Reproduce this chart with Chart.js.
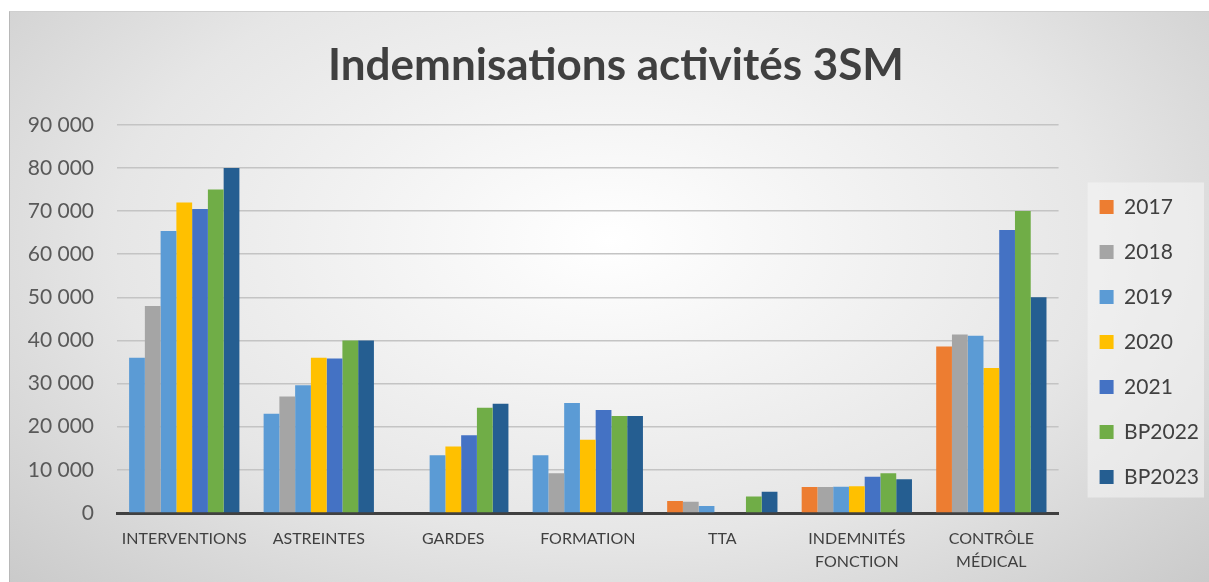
<!DOCTYPE html>
<html>
<head>
<meta charset="utf-8">
<script src="https://cdn.jsdelivr.net/npm/chart.js@4.4.1/dist/chart.umd.min.js"></script>
<style>
  html, body { margin: 0; padding: 0; background: #fff; }
  #frame {
    position: absolute; left: 9px; top: 11px; width: 1200px; height: 571px;
    background: radial-gradient(ellipse 75% 95% at 50% 40%, #ffffff 0%, #e6e6e6 55%, #c4c4c4 100%);
    border-left: 1px solid #b8b8b8; border-top: 1px solid #cfcfcf;
    box-sizing: border-box;
  }
</style>
</head>
<body>
<div id="frame"><canvas id="chart" width="1199" height="570"></canvas></div>
<script>
const categories = ["INTERVENTIONS", "ASTREINTES", "GARDES", "FORMATION", "TTA", ["INDEMNITÉS", "FONCTION"], ["CONTRÔLE", "MÉDICAL"]]
const years = ["2017", "2018", "2019", "2020", "2021", "BP2022", "BP2023"]

const v2017 = [36000, 23000, 0, 13400, 2800, 6000, 38600]
const v2018 = [48000, 27000, 0, 9200, 2600, 6000, 41400]
const v2019 = [65400, 29600, 13400, 25500, 1600, 6100, 41100]
const v2020 = [72000, 36000, 15400, 17000, 0, 6200, 33600]
const v2021 = [70500, 35800, 18000, 23900, 0, 8400, 65600]
const vBP2022 = [75000, 40000, 24400, 22500, 3800, 9200, 70000]
const vBP2023 = [80000, 40000, 25300, 22500, 4900, 7800, 50000]

const yTicks = [0, 10000, 20000, 30000, 40000, 50000, 60000, 70000, 80000, 90000]

const colors = ["#ED7D31", "#A5A5A5", "#5B9BD5", "#FFC000", "#4472C4", "#70AD47", "#255E91"]
// in the source sheet the 2017 bars of the first categories are coloured like 2019
const colors2017 = ["#5B9BD5", "#5B9BD5", "#ED7D31", "#5B9BD5", "#ED7D31", "#ED7D31", "#ED7D31"]

const values = [v2017, v2018, v2019, v2020, v2021, vBP2022, vBP2023]

const fmt = v => String(v).replace(/\B(?=(\d{3})+(?!\d))/g, " ")

// move the legend next to the plot and give it its light panel, nudge the title
const legendBg = {
  id: "legendBg",
  afterLayout(chart) {
    const lg = chart.legend
    const dx = chart.chartArea.right + 17 - lg.left
    lg.left += dx; lg.right += dx
    lg.top += 45; lg.bottom += 45
    const tb = chart.titleBlock
    if (tb) { tb.left += 15; tb.right += 15 }
  },
  beforeDraw(chart) {
    const boxes = chart.legend.legendHitBoxes
    if (!boxes || !boxes.length) return
    const ctx = chart.ctx
    const first = boxes[0], last = boxes[boxes.length - 1]
    const x0 = first.left - 12, y0 = first.top - 14
    ctx.save()
    ctx.fillStyle = "rgba(245, 245, 245, 0.55)"
    ctx.fillRect(x0, y0, chart.width - 5 - x0, last.top + last.height + 10 - y0)
    ctx.restore()
  }
}

Chart.defaults.font.family = "Lato, 'Open Sans', sans-serif"

const chart = new Chart(document.getElementById("chart"), {
  type: "bar",
  data: {
    labels: categories,
    datasets: years.map((y, i) => ({
      label: y,
      data: values[i],
      backgroundColor: i === 0 ? colors2017 : colors[i],
      borderWidth: 0,
      barPercentage: 1,
      categoryPercentage: 0.82
    }))
  },
  options: {
    responsive: false,
    animation: false,
    layout: { padding: { left: 0, right: 17, top: 0, bottom: 0 } },
    plugins: {
      title: {
        display: true,
        text: "Indemnisations activités 3SM",
        color: "#404040",
        font: { size: 44, weight: "bold" },
        padding: { top: 27, bottom: 33 }
      },
      legend: {
        position: "right",
        align: "center",
        labels: {
          boxWidth: 14,
          boxHeight: 14,
          padding: 24,
          color: "#404040",
          font: { size: 21 },
          generateLabels(chart) {
            const items = Chart.defaults.plugins.legend.labels.generateLabels(chart)
            items.forEach((it, i) => { it.fillStyle = colors[i]; it.strokeStyle = colors[i]; it.lineWidth = 0 })
            return items
          }
        }
      },
      tooltip: { enabled: false }
    },
    scales: {
      x: {
        grid: { display: false },
        border: { color: "#404040", width: 3 },
        ticks: { color: "#404040", padding: 7, font: { size: 16, lineHeight: 1.4 }, maxRotation: 0 },
        afterFit: s => { s.height = 69 }
      },
      y: {
        min: 0,
        max: 90000,
        afterBuildTicks: s => { s.ticks = yTicks.map(v => ({ value: v })) },
        ticks: { color: "#595959", padding: 23, font: { size: 21 }, callback: v => fmt(v) },
        grid: { color: "#c4c4c4", lineWidth: 1.5, drawTicks: false },
        border: { display: false },
        afterFit: s => { s.width = 107 }
      }
    }
  },
  plugins: [legendBg]
})
</script>
</body>
</html>
